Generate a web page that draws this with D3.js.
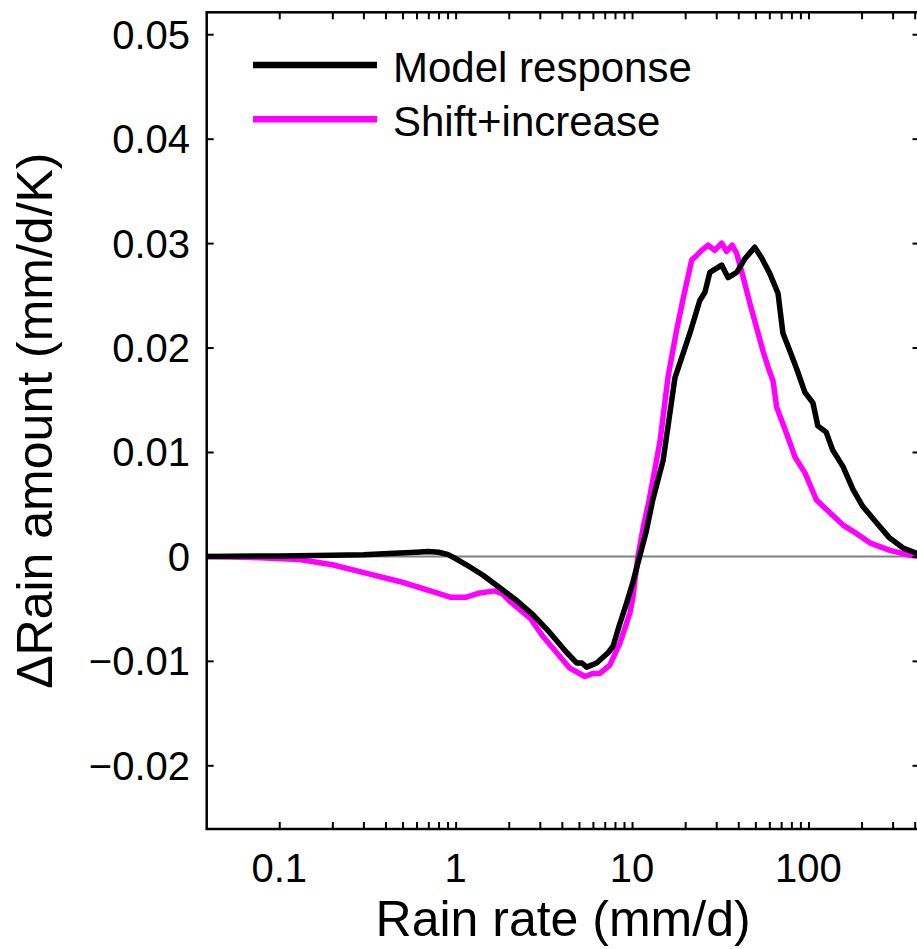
<!DOCTYPE html>
<html>
<head>
<meta charset="utf-8">
<script src="https://cdn.jsdelivr.net/npm/d3@7"></script>
<style>
  html, body { margin: 0; padding: 0; background: #fff; }
  svg { display: block; }
  text { font-family: "Liberation Sans", Arial, Helvetica, sans-serif; fill: #000; }
</style>
</head>
<body>
<script>
// Rain-rate bins (mm/d) and the change in rain amount per K warming
const modelRate = [0.0388, 0.1, 0.2, 0.3, 0.45, 0.6, 0.7, 0.8, 0.9, 1.0, 1.15, 1.43, 1.78, 2.21, 2.75, 3.42, 4.26, 4.85, 5.2, 5.53, 6.3, 7.34, 7.8, 8.54, 9.3, 10.1, 11.0, 12.0, 13.1, 15.0, 17.5, 21.3, 24.2, 25.9, 27.6, 32.2, 35.0, 39.2, 43.6, 49.6, 54.2, 60.3, 67.2, 71.6, 78, 86, 95.5, 106, 113, 126, 137, 157, 179, 203, 241, 287, 344, 426];
const modelValue = [0, 0.00005, 0.0001, 0.00015, 0.0003, 0.0004, 0.00046, 0.0004, 0.0002, -0.0002, -0.0008, -0.0018, -0.003, -0.0042, -0.0056, -0.0073, -0.0092, -0.0102, -0.0102, -0.0106, -0.0102, -0.0092, -0.0086, -0.0064, -0.0045, -0.0025, -0.0001, 0.0023, 0.0054, 0.0092, 0.0171, 0.0214, 0.0245, 0.0253, 0.0272, 0.0279, 0.0267, 0.0272, 0.0285, 0.0296, 0.0286, 0.0271, 0.0252, 0.0214, 0.0198, 0.0179, 0.0157, 0.0147, 0.0125, 0.0119, 0.0102, 0.0086, 0.0064, 0.0048, 0.0033, 0.0018, 0.0008, 0.0002];

const shiftRate = [0.0388, 0.07, 0.13, 0.2, 0.31, 0.48, 0.63, 0.75, 0.93, 1.15, 1.37, 1.67, 1.85, 2.03, 2.64, 3.14, 3.73, 4.44, 5.41, 6.03, 6.57, 7.48, 8.54, 9.73, 10.1, 10.8, 11.6, 12.5, 14.4, 16.0, 17.9, 19.6, 21.8, 23.2, 24.8, 27.0, 29.4, 32.2, 34.3, 37.0, 39.2, 42.7, 46.6, 50.8, 55.4, 59.1, 63, 66, 75, 84, 95.5, 111, 132, 157, 187, 223, 287, 375, 426];
const shiftValue = [0, -0.0001, -0.0003, -0.0008, -0.0016, -0.0024, -0.003, -0.0034, -0.0039, -0.0039, -0.0035, -0.0033, -0.0036, -0.0043, -0.0059, -0.0077, -0.0092, -0.0107, -0.0115, -0.0112, -0.0112, -0.0104, -0.0083, -0.0054, -0.004, 0, 0.0029, 0.0054, 0.011, 0.0172, 0.0217, 0.0249, 0.0284, 0.0288, 0.0293, 0.0298, 0.0293, 0.03, 0.0292, 0.0298, 0.029, 0.0267, 0.0242, 0.0219, 0.0196, 0.0181, 0.0168, 0.0143, 0.0118, 0.0095, 0.008, 0.0054, 0.0042, 0.003, 0.0022, 0.0013, 0.0006, 0.0001, 0];

const seriesNames = ["Model response", "Shift+increase"];
const seriesColors = ["#000000", "#ff00ff"];

const yTickValues = [-0.02, -0.01, 0, 0.01, 0.02, 0.03, 0.04, 0.05];
const yTickLabels = ["\u22120.02", "\u22120.01", "0", "0.01", "0.02", "0.03", "0.04", "0.05"];
const xMajorTicks = [0.1, 1, 10, 100];
const xMajorLabels = ["0.1", "1", "10", "100"];
const xTitle = "Rain rate (mm/d)";
const yTitle = "\u0394Rain amount (mm/d/K)";

const W = 917, H = 949;
const plotL = 206.7, plotR = 919.5, plotT = 12.3, plotB = 829;

const svg = d3.select("body").append("svg").attr("width", W).attr("height", H);

const x = d3.scaleLog().domain([0.0388, 426]).range([plotL, plotR]);
const y = d3.scaleLinear().domain([-0.0261, 0.0521]).range([plotB, plotT]);

// minor + major ticks on the log axis, 0.1 .. 400
const xAllTicks = [];
[0.1, 1, 10, 100].forEach(d => { for (let k = 1; k <= 9; k++) { const v = d * k; if (v <= 400) xAllTicks.push(v); } });

// zero reference line
svg.append("line")
  .attr("x1", plotL).attr("x2", plotR)
  .attr("y1", y(0)).attr("y2", y(0))
  .attr("stroke", "#808080").attr("stroke-width", 2);

// curves, clipped to the plot box
svg.append("clipPath").attr("id", "plotclip")
  .append("rect").attr("x", plotL).attr("y", plotT).attr("width", plotR - plotL).attr("height", plotB - plotT);

const line = d3.line().x(d => x(d[0])).y(d => y(d[1]));
const series = [
  d3.zip(modelRate, modelValue),
  d3.zip(shiftRate, shiftValue)
];
[1, 0].forEach(i => {
  svg.append("path")
    .datum(series[i])
    .attr("clip-path", "url(#plotclip)")
    .attr("fill", "none")
    .attr("stroke", seriesColors[i])
    .attr("stroke-width", 5.5)
    .attr("stroke-linejoin", "round")
    .attr("d", line);
});

// axes: box with inward ticks
const tickLen = 7;
const axisG = svg.append("g");
axisG.append("g").attr("transform", `translate(0,${plotB})`)
  .call(d3.axisBottom(x).tickValues(xAllTicks).tickSize(-tickLen).tickFormat(""));
axisG.append("g").attr("transform", `translate(0,${plotT})`)
  .call(d3.axisTop(x).tickValues(xAllTicks).tickSize(-tickLen).tickFormat(""));
axisG.append("g").attr("transform", `translate(${plotL},0)`)
  .call(d3.axisLeft(y).tickValues(yTickValues).tickSize(-tickLen).tickFormat(""));
axisG.append("g").attr("transform", `translate(${plotR},0)`)
  .call(d3.axisRight(y).tickValues(yTickValues).tickSize(-tickLen).tickFormat(""));
axisG.selectAll(".domain").remove();
axisG.selectAll(".tick line").attr("stroke", "#000").attr("stroke-width", 2);

svg.append("rect")
  .attr("x", plotL).attr("y", plotT).attr("width", plotR - plotL).attr("height", plotB - plotT)
  .attr("fill", "none").attr("stroke", "#000").attr("stroke-width", 2.5);

// tick labels
svg.append("g").selectAll("text").data(yTickValues).join("text")
  .attr("x", 190).attr("y", d => y(d) + 14.5)
  .attr("text-anchor", "end").attr("font-size", 40)
  .text((d, i) => yTickLabels[i]);

svg.append("g").selectAll("text").data(xMajorTicks).join("text")
  .attr("x", d => x(d)).attr("y", 881.7)
  .attr("text-anchor", "middle").attr("font-size", 40)
  .text((d, i) => xMajorLabels[i]);

// axis titles
svg.append("text")
  .attr("x", (plotL + plotR) / 2).attr("y", 936)
  .attr("text-anchor", "middle").attr("font-size", 50)
  .text(xTitle);

svg.append("text")
  .attr("transform", `translate(52,${(plotT + plotB) / 2}) rotate(-90)`)
  .attr("text-anchor", "middle").attr("font-size", 50)
  .text(yTitle);

// legend
const legend = svg.append("g");
seriesNames.forEach((name, i) => {
  const ly = 65 + i * 54.3;
  legend.append("line")
    .attr("x1", 253).attr("x2", 377).attr("y1", ly).attr("y2", ly)
    .attr("stroke", seriesColors[i]).attr("stroke-width", 6.5);
  legend.append("text")
    .attr("x", 393).attr("y", ly + 16.7)
    .attr("font-size", 42)
    .text(name);
});
</script>
</body>
</html>
